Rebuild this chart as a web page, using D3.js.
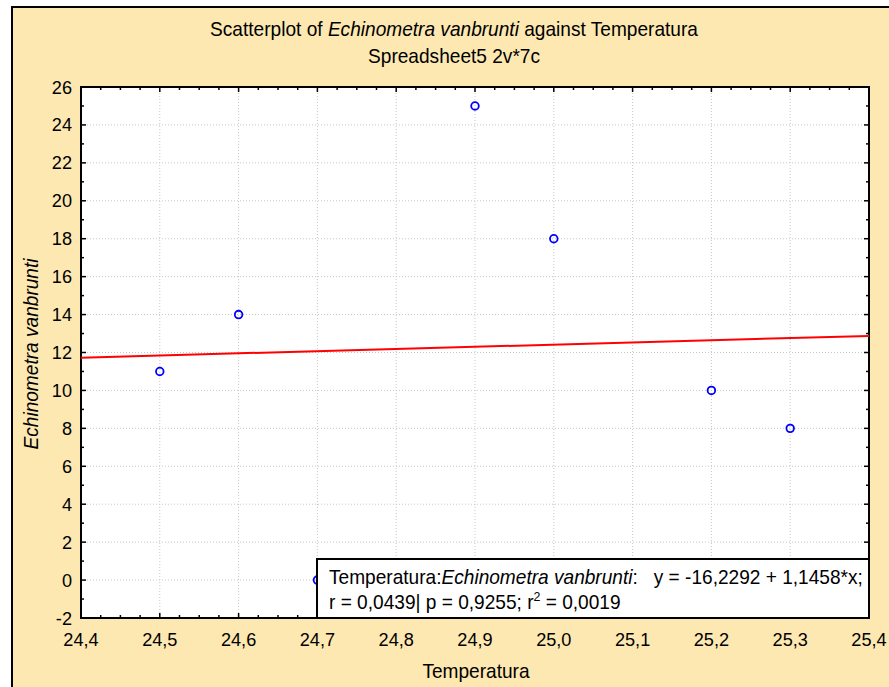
<!DOCTYPE html>
<html>
<head>
<meta charset="utf-8">
<script src="https://cdn.jsdelivr.net/npm/d3@7"></script>
<style>
  html, body { margin: 0; padding: 0; background: #fff; }
  svg { display: block; font-family: "Liberation Sans", Arial, sans-serif; }
</style>
</head>
<body>
<svg id="chart" width="889" height="687"></svg>
<script>
'use strict';

// data
const temperatura = [24.5, 24.6, 24.7, 24.9, 25.0, 25.2, 25.3];
const echinometra = [11, 14, 0, 25, 18, 10, 8];
const fitIntercept = -16.2292;
const fitSlope = 1.1458;
const xTicks = [24.4, 24.5, 24.6, 24.7, 24.8, 24.9, 25.0, 25.1, 25.2, 25.3, 25.4];
const yTicks = [-2, 0, 2, 4, 6, 8, 10, 12, 14, 16, 18, 20, 22, 24, 26];

const svg = d3.select("#chart");
const W = 889, H = 687;
const plot = { left: 81, top: 87, right: 869, bottom: 618 };
const SX = 0.955; // the original font renders slightly narrow

// text placed with a small horizontal squeeze
function label(g, px, py, size, anchor, rot) {
  return g.append("text")
    .attr("transform", `translate(${px},${py})${rot ? " rotate(" + rot + ")" : ""} scale(${SX},1)`)
    .attr("text-anchor", anchor).attr("font-size", size).attr("fill", "#000");
}

// beige frame
svg.append("rect")
  .attr("x", 11).attr("y", 6).attr("width", W).attr("height", H)
  .attr("fill", "#FDE8B2");
svg.append("path")
  .attr("d", `M12,${H} V7 H${W}`)
  .attr("fill", "none").attr("stroke", "#000").attr("stroke-width", 2);

const x = d3.scaleLinear().domain([24.4, 25.4]).range([plot.left, plot.right]);
const y = d3.scaleLinear().domain([-2, 26]).range([plot.bottom, plot.top]);

// plot background
svg.append("rect")
  .attr("x", plot.left).attr("y", plot.top)
  .attr("width", plot.right - plot.left).attr("height", plot.bottom - plot.top)
  .attr("fill", "#fff");

// grid
const grid = svg.append("g").attr("stroke", "#c8c8c8").attr("stroke-dasharray", "1,2").attr("stroke-width", 1);
xTicks.slice(1, -1).forEach(t => {
  grid.append("line").attr("x1", x(t)).attr("x2", x(t)).attr("y1", plot.top).attr("y2", plot.bottom);
});
yTicks.slice(1, -1).forEach(t => {
  grid.append("line").attr("x1", plot.left).attr("x2", plot.right).attr("y1", y(t)).attr("y2", y(t));
});

// ticks pointing inward on all four sides
const minorX = d3.range(0, 41).map(i => 24.4 + i * 0.025);
const minorY = d3.range(-2, 27, 1);
const ticks = svg.append("g").attr("stroke", "#000").attr("stroke-width", 1.5);
minorX.forEach((t, i) => {
  const len = i % 4 === 0 ? 5 : 3;
  ticks.append("line").attr("x1", x(t)).attr("x2", x(t)).attr("y1", plot.bottom).attr("y2", plot.bottom - len);
  ticks.append("line").attr("x1", x(t)).attr("x2", x(t)).attr("y1", plot.top).attr("y2", plot.top + len);
});
minorY.forEach(t => {
  const len = t % 2 === 0 ? 5 : 3;
  ticks.append("line").attr("x1", plot.left).attr("x2", plot.left + len).attr("y1", y(t)).attr("y2", y(t));
  ticks.append("line").attr("x1", plot.right).attr("x2", plot.right - len).attr("y1", y(t)).attr("y2", y(t));
});

// plot border
svg.append("rect")
  .attr("x", plot.left).attr("y", plot.top)
  .attr("width", plot.right - plot.left).attr("height", plot.bottom - plot.top)
  .attr("fill", "none").attr("stroke", "#000").attr("stroke-width", 2);

// tick labels
const fmt = d => d.toFixed(1).replace(".", ",");
const xl = svg.append("g");
xTicks.forEach(d => label(xl, x(d), plot.bottom + 28, 19, "middle").text(fmt(d)));
const yl = svg.append("g");
yTicks.forEach(d => label(yl, plot.left - 9, y(d) + 6.5, 19, "end").text(d));

// regression line
svg.append("line")
  .attr("x1", x(24.4)).attr("y1", y(fitIntercept + fitSlope * 24.4))
  .attr("x2", x(25.4)).attr("y2", y(fitIntercept + fitSlope * 25.4))
  .attr("stroke", "#f00").attr("stroke-width", 2);

// points
svg.append("g").selectAll("circle").data(temperatura).join("circle")
  .attr("cx", d => x(d)).attr("cy", (d, i) => y(echinometra[i]))
  .attr("r", 3.8).attr("fill", "none").attr("stroke", "#0000ff").attr("stroke-width", 1.8);

// legend box
const lg = svg.append("g");
lg.append("rect")
  .attr("x", 317).attr("y", 559).attr("width", plot.right - 317).attr("height", plot.bottom - 559)
  .attr("fill", "#fff").attr("stroke", "#000").attr("stroke-width", 2);
const l1 = label(lg, 329, 584, 20, "start");
l1.append("tspan").text("Temperatura:");
l1.append("tspan").attr("font-style", "italic").text("Echinometra vanbrunti");
l1.append("tspan").text(":\u00a0\u00a0\u00a0y = -16,2292 + 1,1458*x;");
const l2 = label(lg, 329, 609, 20, "start");
l2.append("tspan").text("r = 0,0439| p = 0,9255; r");
l2.append("tspan").attr("font-size", 13).attr("dy", -8).text("2");
l2.append("tspan").attr("dy", 8).text(" = 0,0019");

// titles
const t1 = label(svg, 454, 36, 20, "middle");
t1.append("tspan").text("Scatterplot of ");
t1.append("tspan").attr("font-style", "italic").text("Echinometra vanbrunti");
t1.append("tspan").text(" against Temperatura");
label(svg, 454, 63, 20, "middle").text("Spreadsheet5 2v*7c");

label(svg, 476, 678, 20, "middle").text("Temperatura");
label(svg, 38, 354, 20, "middle", -90).attr("font-style", "italic").text("Echinometra vanbrunti");
</script>
</body>
</html>
